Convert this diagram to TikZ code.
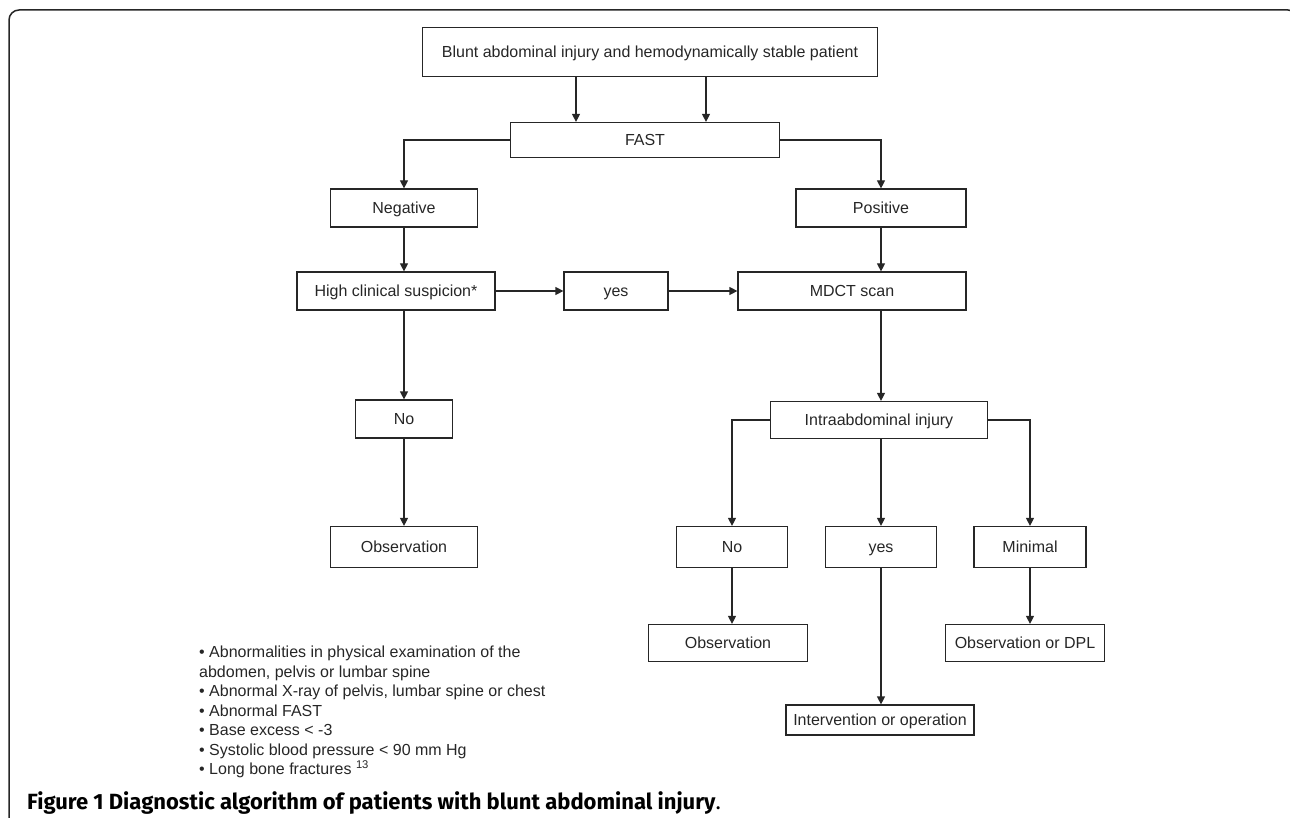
\documentclass[tikz,border=0pt]{standalone}
\usepackage{fontspec}
\setmainfont{Liberation Sans}
\newfontfamily\capfont{Fira Sans}
\usetikzlibrary{positioning, arrows.meta}

\tikzset{
  box/.style={draw=black!85, line width=1.2pt, minimum height=38pt, inner sep=2pt,
    text=black!85, text height=12pt, text depth=1pt, font=\fontsize{16}{18}\selectfont},
  arr/.style={-{Triangle[length=8pt,width=8pt]}, line width=1.2pt, draw=black!85}
}

\begin{document}
\begin{tikzpicture}[x=1pt, y=-1pt, on grid]
    \useasboundingbox (0,0) rectangle (1290,818);
    % frame of the figure
    \draw[line width=1.5pt, black!85, rounded corners=10pt] (9,830) -- (9,10) -- (1298,10) -- (1298,830);

    \node[box, minimum width=455pt, minimum height=49pt] (blunt) at (650,52) {Blunt abdominal injury and hemodynamically stable patient};
    \node[box, minimum width=269pt, minimum height=35pt] (fast) at (645,140) {FAST};
    \node[box, minimum width=147pt] (neg) at (404,208) {Negative};
    \node[box, minimum width=170pt] (pos) [right=477pt of neg] {Positive};
    \node[box, minimum width=198pt] (susp) at (396,291) {High clinical suspicion*};
    \node[box, minimum width=104pt] (yes) [right=220pt of susp] {yes};
    \node[box, minimum width=228pt] (mdct) [right=236pt of yes] {MDCT scan};
    \node[box, minimum width=97pt] (no) [below=211pt of neg] {No};
    \node[box, minimum width=147pt, minimum height=41pt] (obs) [below=128pt of no] {Observation};
    \node[box, minimum width=217pt, minimum height=37pt] (intra) at (879,420) {Intraabdominal injury};
    \node[box, minimum width=111pt, minimum height=41pt] (noinj) at (732,547) {No};
    \node[box, minimum width=111pt, minimum height=41pt] (yesinj) [right=149pt of noinj] {yes};
    \node[box, minimum width=112pt, minimum height=41pt] (minimal) [right=149pt of yesinj] {Minimal};
    \node[box, minimum width=159pt, minimum height=37pt] (obsinj) at (728,643) {Observation};
    \node[box, minimum width=159pt, minimum height=37pt] (obsdpl) [right=297pt of obsinj] {Observation or DPL};
    \node[box, minimum width=188pt, minimum height=30pt] (interv) at (880,720) {Intervention or operation};

    \coordinate (b1) at (576,0);
    \coordinate (b2) at (706,0);

    \draw[arr] (blunt.south -| b1) -- (fast.north -| b1);
    \draw[arr] (blunt.south -| b2) -- (fast.north -| b2);
    \draw[arr] (fast.west) -| (neg.north);
    \draw[arr] (fast.east) -| (pos.north);
    \draw[arr] (neg.south) -- (neg.south |- susp.north);
    \draw[arr] (susp.east) -- (yes.west);
    \draw[arr] (yes.east) -- (mdct.west);
    \draw[arr] (pos.south) -- (pos.south |- mdct.north);
    \draw[arr] (no.north |- susp.south) -- (no.north);
    \draw[arr] (no.south) -- (obs.north);
    \draw[arr] (pos.south |- mdct.south) -- (pos.south |- intra.north);
    \draw[arr] (intra.west) -| (noinj.north);
    \draw[arr] (yesinj.north |- intra.south) -- (yesinj.north);
    \draw[arr] (intra.east) -| (minimal.north);
    \draw[arr] (noinj.south) -- (noinj.south |- obsinj.north);
    \draw[arr] (yesinj.south) -- (yesinj.south |- interv.north);
    \draw[arr] (minimal.south) -- (minimal.south |- obsdpl.north);

    % criteria for high clinical suspicion
    \node[anchor=north west, align=left, inner sep=0pt, text=black!85,
      font=\fontsize{16}{19.5}\selectfont] (crit) at (199,646)
      {• Abnormalities in physical examination of the\\
       abdomen, pelvis or lumbar spine\\
       • Abnormal X-ray of pelvis, lumbar spine or chest\\
       • Abnormal FAST\\
       • Base excess < -3\\
       • Systolic blood pressure < 90 mm Hg\\
       • Long bone fractures \textsuperscript{13}};

    \node[anchor=base west, inner sep=0pt, font=\capfont\fontsize{22}{24}\selectfont] (cap) at (27,809)
      {\textbf{Figure 1 Diagnostic algorithm of patients with blunt abdominal injury}.};
\end{tikzpicture}
\end{document}
